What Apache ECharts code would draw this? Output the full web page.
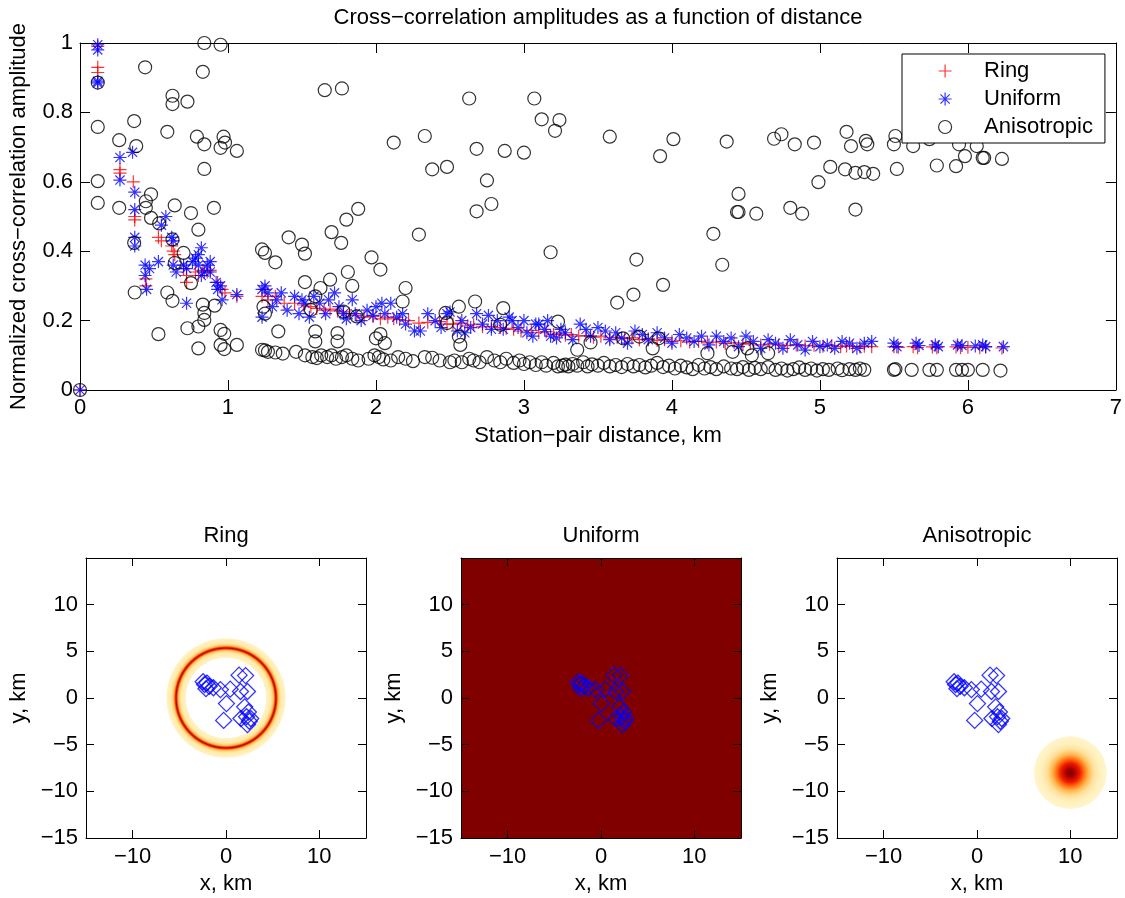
<!DOCTYPE html>
<html><head><meta charset="utf-8">
<script src="https://cdn.jsdelivr.net/npm/echarts@6/dist/echarts.min.js"></script>
<style>html,body{margin:0;padding:0;background:#fff}#c{width:1125px;height:898px}</style>
</head><body><div id="c"></div>
<script>
// ---------------- DATA ----------------
const mainTitle = 'Cross\u2212correlation amplitudes as a function of distance';
const xAxisTitle = 'Station\u2212pair distance, km';
const yAxisTitle = 'Normalized cross\u2212correlation amplitude';
const seriesNames = ['Ring', 'Uniform', 'Anisotropic'];
const panelTitles = ['Ring', 'Uniform', 'Anisotropic'];
const mapTicksX = [-10, 0, 10];
const mapTicksY = [-15, -10, -5, 0, 5, 10];

// Ring source: red "+"  [distance km, amplitude]
const ringPoints = [
 [0,0],[0.12,0.99],[0.12,0.93],[0.12,0.915],[0.27,0.635],[0.27,0.625],[0.36,0.60],[0.37,0.50],[0.37,0.49],
 [0.445,0.32],[0.445,0.30],[0.53,0.44],[0.55,0.43],[0.62,0.415],[0.63,0.40],[0.64,0.39],[0.70,0.35],[0.72,0.33],[0.72,0.31],
 [0.78,0.34],[0.80,0.33],[0.83,0.345],[0.86,0.34],[0.88,0.345],[0.93,0.31],[0.96,0.29],[0.98,0.28],[1.06,0.27],
 [1.23,0.27],[1.25,0.29],[1.27,0.26],[1.32,0.27],[1.38,0.25],[1.45,0.25],[1.51,0.245],[1.56,0.24],[1.60,0.235],[1.65,0.23],
 [1.69,0.233],[1.74,0.228],[1.78,0.225],[1.82,0.22],[1.87,0.215],[1.92,0.21],[1.98,0.212],[2.03,0.205],[2.08,0.21],[2.12,0.205],
 [2.16,0.203],[2.22,0.20],[2.29,0.193],[2.35,0.195],[2.43,0.197],[2.48,0.19],[2.52,0.19],[2.57,0.193],[2.62,0.185],[2.66,0.188],
 [2.72,0.182],[2.78,0.183],[2.84,0.18],[2.88,0.178],[2.93,0.175],[2.98,0.17],[3.05,0.172],[3.10,0.165],[3.15,0.168],[3.20,0.16],
 [3.24,0.162],[3.28,0.158],[3.32,0.16],[3.37,0.155],[3.42,0.157],[3.47,0.152],[3.52,0.155],[3.58,0.15],[3.63,0.152],[3.68,0.148],
 [3.73,0.15],[3.78,0.145],[3.84,0.148],[3.90,0.143],[3.95,0.145],[4.00,0.14],[4.06,0.142],[4.12,0.138],[4.18,0.14],[4.24,0.136],
 [4.30,0.138],[4.36,0.134],[4.42,0.136],[4.48,0.132],[4.53,0.134],[4.60,0.13],[4.66,0.132],[4.72,0.13],[4.78,0.128],[4.84,0.13],
 [4.90,0.127],[4.96,0.129],[5.02,0.126],[5.08,0.128],[5.14,0.125],[5.18,0.127],[5.22,0.126],[5.27,0.124],[5.30,0.126],[5.35,0.125],
 [5.50,0.125],[5.53,0.123],[5.63,0.125],[5.66,0.122],[5.76,0.124],[5.79,0.122],[5.92,0.124],[5.95,0.122],[6.00,0.123],[6.08,0.122],
 [6.12,0.124],[6.23,0.121]
];

// Uniform source: blue "*"
const uniformPoints = [
 [0,0],[0.12,0.995],[0.12,0.98],[0.12,0.885],[0.12,0.89],[0.27,0.67],[0.27,0.605],[0.355,0.685],[0.37,0.57],[0.37,0.52],
 [0.37,0.44],[0.37,0.415],[0.44,0.36],[0.44,0.33],[0.45,0.29],[0.47,0.35],[0.53,0.37],[0.55,0.475],[0.58,0.50],[0.62,0.44],
 [0.63,0.43],[0.63,0.36],[0.65,0.34],[0.70,0.36],[0.72,0.25],[0.72,0.35],[0.76,0.37],[0.78,0.38],[0.80,0.39],[0.80,0.36],
 [0.82,0.41],[0.82,0.33],[0.84,0.34],[0.86,0.36],[0.88,0.37],[0.88,0.34],[0.92,0.31],[0.93,0.29],[0.95,0.30],[0.96,0.26],[1.06,0.275],
 [1.23,0.29],[1.23,0.21],[1.25,0.30],[1.27,0.28],[1.30,0.24],[1.33,0.26],[1.36,0.28],[1.40,0.23],[1.45,0.27],[1.48,0.22],
 [1.50,0.26],[1.52,0.25],[1.55,0.21],[1.58,0.27],[1.62,0.25],[1.66,0.22],[1.68,0.26],[1.72,0.28],[1.75,0.24],[1.78,0.22],
 [1.80,0.205],[1.84,0.26],[1.86,0.22],[1.90,0.20],[1.94,0.23],[1.98,0.215],[2.00,0.24],[2.04,0.25],[2.06,0.22],[2.10,0.25],
 [2.14,0.21],[2.18,0.22],[2.20,0.19],[2.26,0.17],[2.30,0.17],[2.35,0.22],[2.40,0.20],[2.44,0.18],[2.48,0.22],[2.50,0.225],
 [2.55,0.17],[2.58,0.20],[2.60,0.165],[2.64,0.18],[2.68,0.22],[2.72,0.19],[2.76,0.215],[2.78,0.175],[2.82,0.20],[2.86,0.175],
 [2.90,0.21],[2.92,0.20],[2.96,0.18],[3.00,0.20],[3.02,0.165],[3.06,0.155],[3.08,0.19],[3.10,0.19],[3.14,0.175],[3.16,0.20],
 [3.18,0.155],[3.22,0.15],[3.25,0.175],[3.28,0.165],[3.33,0.145],[3.38,0.19],[3.42,0.175],[3.45,0.155],[3.50,0.18],[3.55,0.17],
 [3.58,0.145],[3.62,0.165],[3.66,0.15],[3.70,0.135],[3.75,0.17],[3.80,0.16],[3.84,0.145],[3.90,0.165],[3.95,0.15],[4.00,0.135],
 [4.05,0.16],[4.10,0.15],[4.15,0.14],[4.20,0.155],[4.25,0.13],[4.30,0.155],[4.35,0.14],[4.40,0.15],[4.45,0.125],[4.50,0.155],
 [4.55,0.14],[4.60,0.12],[4.65,0.145],[4.70,0.135],[4.75,0.12],[4.80,0.145],[4.85,0.13],[4.90,0.115],[4.95,0.14],[5.00,0.125],
 [5.05,0.13],[5.10,0.12],[5.15,0.14],[5.20,0.135],[5.25,0.12],[5.30,0.135],[5.35,0.14],[5.50,0.135],[5.52,0.125],[5.65,0.135],
 [5.67,0.128],[5.78,0.13],[5.80,0.125],[5.93,0.13],[5.96,0.128],[6.05,0.127],[6.10,0.13],[6.12,0.125],[6.24,0.125]
];

// Anisotropic source: black "o"
const anisoPoints = [
 [0,0],[0.12,0.886],[0.12,0.758],[0.12,0.602],[0.12,0.539],[0.265,0.72],[0.265,0.525],[0.366,0.775],[0.38,0.703],[0.366,0.424],
 [0.37,0.281],[0.44,0.93],[0.445,0.544],[0.445,0.525],[0.48,0.564],[0.48,0.496],[0.535,0.48],[0.53,0.161],[0.59,0.744],[0.59,0.281],
 [0.625,0.848],[0.625,0.824],[0.625,0.434],[0.625,0.257],[0.64,0.532],[0.64,0.366],[0.70,0.395],[0.726,0.831],[0.726,0.178],
 [0.75,0.51],[0.75,0.308],[0.79,0.73],[0.80,0.462],[0.80,0.183],[0.80,0.12],[0.83,0.917],[0.84,1.0],[0.84,0.708],[0.84,0.637],
 [0.83,0.246],[0.84,0.222],[0.84,0.202],[0.905,0.525],[0.91,0.243],[0.95,0.995],[0.95,0.698],[0.95,0.173],[0.95,0.13],[0.97,0.73],
 [0.98,0.713],[0.975,0.162],[0.975,0.118],[1.06,0.689],[1.06,0.13],[1.23,0.405],[1.25,0.395],[1.23,0.116],[1.25,0.114],[1.24,0.24],
 [1.25,0.22],[1.32,0.368],[1.34,0.169],[1.41,0.44],[1.50,0.419],[1.52,0.393],[1.52,0.311],[1.56,0.231],[1.59,0.27],[1.59,0.169],
 [1.59,0.14],[1.625,0.294],[1.654,0.864],[1.69,0.318],[1.70,0.455],[1.74,0.164],[1.74,0.14],[1.765,0.424],[1.77,0.869],[1.78,0.226],
 [1.80,0.491],[1.81,0.34],[1.84,0.30],[1.87,0.212],[1.88,0.522],[1.97,0.382],[2.00,0.149],[2.03,0.347],[2.03,0.161],[2.06,0.135],
 [2.12,0.713],[2.18,0.255],[2.20,0.294],[2.29,0.448],[2.33,0.732],[2.38,0.636],[2.47,0.222],[2.48,0.193],[2.48,0.643],[2.56,0.24],
 [2.56,0.154],[2.57,0.13],[2.63,0.84],[2.67,0.255],[2.68,0.695],[2.68,0.515],[2.75,0.604],[2.78,0.536],[2.84,0.188],[2.86,0.236],
 [2.87,0.689],[3.00,0.684],[3.07,0.84],[3.12,0.78],[3.18,0.397],[3.21,0.747],[3.23,0.197],[3.24,0.778],[3.36,0.116],[3.45,0.137],
 [3.58,0.73],[3.63,0.252],[3.67,0.149],[3.74,0.275],[3.76,0.376],[3.78,0.154],[3.87,0.12],[3.91,0.149],[3.92,0.674],[3.94,0.303],
 [4.01,0.723],[4.24,0.106],[4.28,0.45],[4.34,0.361],[4.37,0.716],[4.41,0.11],[4.44,0.513],[4.45,0.513],[4.45,0.565],[4.51,0.12],
 [4.54,0.10],[4.57,0.508],[4.65,0.106],[4.69,0.724],[4.74,0.737],[4.80,0.525],[4.83,0.708],[4.88,0.508],[4.96,0.713],[4.99,0.599],
 [5.07,0.643],[5.17,0.636],[5.18,0.744],[5.21,0.703],[5.24,0.626],[5.24,0.52],[5.30,0.628],[5.31,0.718],[5.32,0.708],[5.36,0.623],
 [5.50,0.708],[5.51,0.732],[5.52,0.637],[5.63,0.703],[5.74,0.723],[5.79,0.647],[5.92,0.645],[5.94,0.708],[5.98,0.674],[6.06,0.703],
 [6.10,0.669],[6.11,0.669],[6.23,0.666],
 [1.27,0.11],[1.32,0.108],[1.37,0.105],[1.46,0.11],[1.52,0.10],[1.57,0.095],[1.60,0.092],[1.63,0.10],[1.67,0.095],[1.70,0.10],
 [1.73,0.09],[1.77,0.095],[1.80,0.10],[1.84,0.09],[1.88,0.085],[1.95,0.09],[1.99,0.10],[2.02,0.095],[2.05,0.088],[2.10,0.085],
 [2.15,0.095],[2.20,0.09],[2.25,0.083],[2.33,0.095],[2.38,0.093],[2.43,0.085],[2.50,0.08],[2.53,0.085],[2.58,0.08],[2.63,0.09],
 [2.66,0.085],[2.70,0.08],[2.75,0.095],[2.80,0.085],[2.84,0.08],[2.88,0.09],[2.93,0.078],[2.97,0.085],[3.00,0.075],[3.04,0.08],
 [3.08,0.072],[3.12,0.08],[3.15,0.07],[3.20,0.078],[3.23,0.068],[3.26,0.07],[3.28,0.073],[3.30,0.068],[3.33,0.075],[3.36,0.07],
 [3.40,0.08],[3.43,0.068],[3.46,0.074],[3.50,0.07],[3.54,0.078],[3.58,0.068],[3.62,0.072],[3.66,0.066],[3.70,0.075],[3.74,0.068],
 [3.78,0.072],[3.82,0.065],[3.86,0.07],[3.90,0.078],[3.94,0.066],[3.98,0.07],[4.02,0.062],[4.06,0.07],[4.10,0.065],[4.14,0.06],
 [4.18,0.072],[4.22,0.062],[4.26,0.066],[4.30,0.06],[4.35,0.068],[4.40,0.062],[4.44,0.06],[4.48,0.066],[4.52,0.058],[4.56,0.064],
 [4.60,0.06],[4.65,0.066],[4.70,0.058],[4.74,0.062],[4.78,0.056],[4.82,0.06],[4.86,0.065],[4.90,0.058],[4.94,0.062],[4.98,0.056],
 [5.02,0.06],[5.06,0.058],[5.12,0.062],[5.15,0.057],[5.20,0.06],[5.24,0.058],[5.27,0.062],[5.30,0.058],[5.50,0.058],[5.51,0.06],
 [5.62,0.058],[5.74,0.058],[5.79,0.058],[5.92,0.058],[5.96,0.058],[6.00,0.058],[6.10,0.058],[6.22,0.056]
];

// Station positions (km)
const stationX = [-2.45,-2.3,-2.05,-1.8,-2.15,-1.35,-0.6,0.45,1.4,2.1,1.55,2.3,0.05,-0.25,2.0,2.4,1.6,2.2,2.5,2.3,2.65];
const stationY = [1.75,1.45,1.6,1.25,1.0,1.1,0.9,0.95,2.45,2.4,0.7,0.7,-0.6,-2.4,-0.95,-1.5,-2.2,-2.0,-2.5,-2.85,-2.2];

// Source fields: [centre x, centre y, inner halo radius, peak radius, outer radius] (km)
const ringSource = [[0, 0, 4.3, 5.35, 6.4]];
const uniformSource = [[-15, 15, -15, 15]];          // x0, x1, y0, y1
const anisoSource = [[10, -8, 3.9]];                 // centre x, centre y, outer radius

// ---------------- CHART ----------------
const FONT = 'Liberation Sans, Arial, Helvetica, sans-serif';
const FS = 22;
const minus = v => String(v).replace('-', '\u2212');
const plusPath = 'path://M0 5L10 5M5 0L5 10';
const starPath = 'path://M0 5L10 5M5 0L5 10M1.46 1.46L8.54 8.54M1.46 8.54L8.54 1.46';
const stations = stationX.map((x, i) => [x, stationY[i]]);

const grids = [
  {left: 79, top: 43, width: 1038, height: 347},
  {left: 86, top: 558, width: 280, height: 280},
  {left: 461, top: 558, width: 280, height: 280},
  {left: 837, top: 558, width: 280, height: 280}
];
const lineStyle = {color: '#000', width: 1};
const xAxes = [], yAxes = [];
// top plot
xAxes.push({type: 'value', gridIndex: 0, min: 0, max: 7, interval: 1, position: 'bottom',
  axisLine: {show: true, onZero: false, lineStyle}, axisTick: {inside: true, length: 10, lineStyle},
  splitLine: {show: false}, axisLabel: {margin: 7, color: '#000', fontSize: FS, fontFamily: FONT},
  name: xAxisTitle, nameLocation: 'middle', nameGap: 35, nameTextStyle: {color: '#000', fontSize: FS, fontFamily: FONT}});
xAxes.push({type: 'value', gridIndex: 0, min: 0, max: 7, interval: 1, position: 'top',
  axisLine: {show: true, onZero: false, lineStyle}, axisTick: {inside: true, length: 10, lineStyle},
  splitLine: {show: false}, axisLabel: {show: false}});
yAxes.push({type: 'value', gridIndex: 0, min: 0, max: 1, interval: 0.2, position: 'left',
  axisLine: {show: true, onZero: false, lineStyle}, axisTick: {inside: true, length: 10, lineStyle},
  splitLine: {show: false}, axisLabel: {margin: 7, color: '#000', fontSize: FS, fontFamily: FONT},
  name: yAxisTitle, nameLocation: 'middle', nameGap: 50, nameTextStyle: {color: '#000', fontSize: FS, fontFamily: FONT}});
yAxes.push({type: 'value', gridIndex: 0, min: 0, max: 1, interval: 0.2, position: 'right',
  axisLine: {show: true, onZero: false, lineStyle}, axisTick: {inside: true, length: 10, lineStyle},
  splitLine: {show: false}, axisLabel: {show: false}});
// map panels
for (let g = 1; g <= 3; g++) {
  const lab = {margin: 8, color: '#000', fontSize: FS, fontFamily: FONT, formatter: minus};
  xAxes.push({type: 'value', gridIndex: g, min: -15, max: 15, position: 'bottom',
    axisLine: {show: true, onZero: false, lineStyle}, axisTick: {inside: true, length: 8, lineStyle, customValues: mapTicksX},
    splitLine: {show: false}, axisLabel: Object.assign({customValues: mapTicksX}, lab),
    name: 'x, km', nameLocation: 'middle', nameGap: 35, nameTextStyle: {color: '#000', fontSize: FS, fontFamily: FONT}});
  xAxes.push({type: 'value', gridIndex: g, min: -15, max: 15, position: 'top',
    axisLine: {show: true, onZero: false, lineStyle}, axisTick: {inside: true, length: 8, lineStyle, customValues: mapTicksX},
    splitLine: {show: false}, axisLabel: {show: false}});
  yAxes.push({type: 'value', gridIndex: g, min: -15, max: 15, position: 'left',
    axisLine: {show: true, onZero: false, lineStyle}, axisTick: {inside: true, length: 8, lineStyle, customValues: mapTicksY},
    splitLine: {show: false}, axisLabel: Object.assign({customValues: mapTicksY}, lab),
    name: 'y, km', nameLocation: 'middle', nameGap: 56, nameTextStyle: {color: '#000', fontSize: FS, fontFamily: FONT}});
  yAxes.push({type: 'value', gridIndex: g, min: -15, max: 15, position: 'right',
    axisLine: {show: true, onZero: false, lineStyle}, axisTick: {inside: true, length: 8, lineStyle, customValues: mapTicksY},
    splitLine: {show: false}, axisLabel: {show: false}});
}

const symStyle = (c, w) => ({color: 'transparent', borderColor: c, borderWidth: w || 1.2});

function ringItem(params, api) {
  const c = api.coord([api.value(0), api.value(1)]);
  const R = api.value(4);
  const rPx = api.size([R, 0])[0];
  const a = api.value(2) / R, m = api.value(3) / R;
  return {type: 'circle', shape: {cx: c[0], cy: c[1], r: rPx},
    style: {fill: new echarts.graphic.RadialGradient(0.5, 0.5, 0.5, [
      {offset: 0, color: 'rgba(255,255,255,0)'}, {offset: a - 0.002, color: 'rgba(255,255,255,0)'},
      {offset: a, color: '#fff4c8'}, {offset: m - 0.08, color: '#ffe9a6'}, {offset: m - 0.04, color: '#ffc060'},
      {offset: m - 0.02, color: '#ff5000'}, {offset: m, color: '#a80000'}, {offset: m + 0.02, color: '#ff5000'},
      {offset: m + 0.04, color: '#ffc060'}, {offset: m + 0.08, color: '#ffe9a6'}, {offset: 1, color: '#fff4c8'}])}};
}
function uniformItem(params, api) {
  const p0 = api.coord([api.value(0), api.value(3)]);
  const p1 = api.coord([api.value(1), api.value(2)]);
  return {type: 'rect', shape: {x: p0[0], y: p0[1], width: p1[0] - p0[0], height: p1[1] - p0[1]}, style: {fill: '#800000'}};
}
function blobItem(params, api) {
  const c = api.coord([api.value(0), api.value(1)]);
  const rPx = api.size([api.value(2), 0])[0];
  return {type: 'circle', shape: {cx: c[0], cy: c[1], r: rPx},
    style: {fill: new echarts.graphic.RadialGradient(0.5, 0.5, 0.5, [
      {offset: 0, color: '#780000'}, {offset: 0.1, color: '#a00000'}, {offset: 0.26, color: '#f01800'},
      {offset: 0.38, color: '#ff7010'}, {offset: 0.5, color: '#ffb850'}, {offset: 0.64, color: '#ffe09a'},
      {offset: 0.8, color: '#fff0bd'}, {offset: 1, color: '#fff5cc'}])}};
}

const stationSeries = g => ({type: 'scatter', xAxisIndex: 2 * g, yAxisIndex: 2 * g, data: stations,
  symbol: 'diamond', symbolSize: 16, itemStyle: symStyle('#0000ff', 1.3), clip: false, silent: true, z: 3});

const titleStyle = {color: '#000', fontSize: FS, fontWeight: 'normal', fontFamily: FONT};
const option = {
  animation: false,
  backgroundColor: '#fff',
  title: [
    {text: mainTitle, left: 598, top: 7, textAlign: 'center', padding: 0, textStyle: titleStyle},
    {text: panelTitles[0], left: 226, top: 525, textAlign: 'center', padding: 0, textStyle: titleStyle},
    {text: panelTitles[1], left: 601, top: 525, textAlign: 'center', padding: 0, textStyle: titleStyle},
    {text: panelTitles[2], left: 977, top: 525, textAlign: 'center', padding: 0, textStyle: titleStyle}
  ],
  legend: {
    orient: 'vertical', left: 902, top: 54, padding: [6, 12, 5, 36],
    itemWidth: 68, itemHeight: 13, itemGap: 6, selectedMode: false,
    backgroundColor: '#fff', borderColor: '#000', borderWidth: 1,
    textStyle: {color: '#000', fontSize: FS, fontFamily: FONT, lineHeight: 22},
    data: [
      {name: seriesNames[0], icon: plusPath, itemStyle: symStyle('#ff0000')},
      {name: seriesNames[1], icon: starPath, itemStyle: symStyle('#0000ff')},
      {name: seriesNames[2], icon: 'circle', itemStyle: symStyle('#000000')}
    ]
  },
  grid: grids,
  xAxis: xAxes,
  yAxis: yAxes,
  series: [
    {name: seriesNames[0], type: 'scatter', xAxisIndex: 0, yAxisIndex: 0, data: ringPoints, clip: false,
     symbol: plusPath, symbolSize: 13, itemStyle: symStyle('#ff0000')},
    {name: seriesNames[1], type: 'scatter', xAxisIndex: 0, yAxisIndex: 0, data: uniformPoints, clip: false,
     symbol: starPath, symbolSize: 13, itemStyle: symStyle('#0000ff')},
    {name: seriesNames[2], type: 'scatter', xAxisIndex: 0, yAxisIndex: 0, data: anisoPoints, clip: false,
     symbol: 'circle', symbolSize: 13, itemStyle: symStyle('#000000')},
    {type: 'custom', xAxisIndex: 2, yAxisIndex: 2, data: ringSource, renderItem: ringItem, silent: true, z: -1},
    {type: 'custom', xAxisIndex: 4, yAxisIndex: 4, data: uniformSource, renderItem: uniformItem, silent: true, z: -1},
    {type: 'custom', xAxisIndex: 6, yAxisIndex: 6, data: anisoSource, renderItem: blobItem, silent: true, z: -1},
    stationSeries(1), stationSeries(2), stationSeries(3)
  ]
};
const chart = echarts.init(document.getElementById('c'), null, {renderer: 'canvas'});
chart.setOption(option);
</script>
</body></html>
